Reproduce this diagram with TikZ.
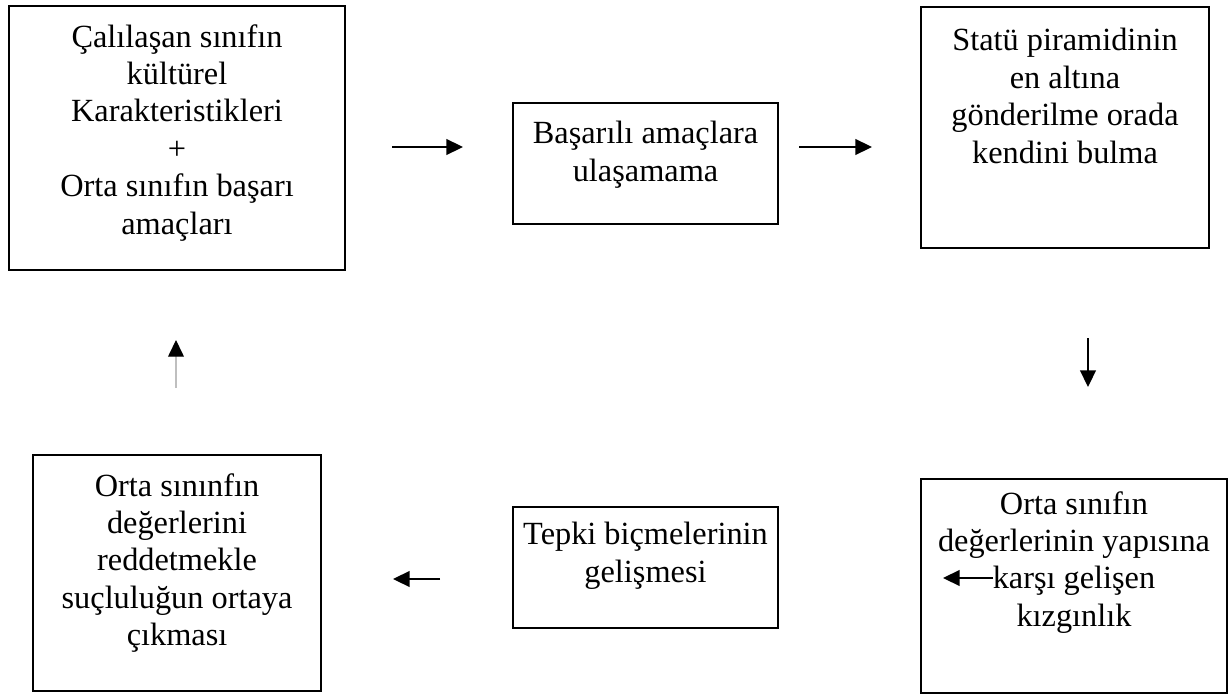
\documentclass[tikz,border=0pt]{standalone}
\usepackage{fontspec}
\setmainfont{Liberation Serif}
\usetikzlibrary{arrows.meta,positioning}

\tikzset{
	kutu/.style={draw, line width=1.2pt, anchor=north west, inner sep=0pt},
	yazi/.style={anchor=north, align=center, inner sep=0pt, font=\fontsize{18.4}{21.3}\selectfont},
	ok/.style={line width=1pt, -{Triangle[length=9.5pt,width=9pt]}}
}

\begin{document}
\begin{tikzpicture}[x=0.02cm,y=-0.02cm]
			\useasboundingbox (0,0) rectangle (1228,696);

			\node[kutu, minimum width=6.72cm, minimum height=5.28cm] (k1) at (8,5) {};
			\node[kutu, minimum width=5.30cm, minimum height=2.42cm] (k2) at (512,102) {};
			\node[kutu, minimum width=5.76cm, minimum height=4.82cm] (k3) at (920,6) {};
			\node[kutu, minimum width=6.12cm, minimum height=4.28cm] (k4) at (920,478) {};
			\node[kutu, minimum width=5.30cm, minimum height=2.42cm] (k5) at (512,506) {};
			\node[kutu, minimum width=5.76cm, minimum height=4.72cm] (k6) at (32,454) {};

			\node[yazi, below=0.38cm of k1.north] (y1) {Çalılaşan sınıfın\\kültürel\\Karakteristikleri\\+\\Orta sınıfın başarı\\amaçları};
			\node[yazi, below=0.38cm of k2.north] (y2) {Başarılı amaçlara\\ulaşamama};
			\node[yazi, below=0.44cm of k3.north] (y3) {Statü piramidinin\\en altına\\gönderilme orada\\kendini bulma};
			\node[yazi, below=0.26cm of k4.north] (y4) {Orta sınıfın\\değerlerinin yapısına\\karşı gelişen\\kızgınlık};
			\node[yazi, below=0.32cm of k5.north] (y5) {Tepki biçmelerinin\\gelişmesi};
			\node[yazi, below=0.38cm of k6.north] (y6) {Orta sınınfın\\değerlerini\\reddetmekle\\suçluluğun ortaya\\çıkması};

			\coordinate (a1) at (392,147);
			\coordinate (b1) at (463,147);
			\coordinate (a2) at (799,147);
			\coordinate (b2) at (872,147);
			\coordinate (a3) at (1088,338);
			\coordinate (b3) at (1088,387);
			\coordinate (a4) at (993,578);
			\coordinate (b4) at (943,578);
			\coordinate (a5) at (440,579);
			\coordinate (b5) at (393,579);
			\coordinate (a6) at (176,388);
			\coordinate (b6) at (176,340);

			\draw[ok] (a1) -- (b1);
			\draw[ok] (a2) -- (b2);
			\draw[ok] (a3) -- (b3);
			\draw[ok] (a4) -- (b4);
			\draw[ok] (a5) -- (b5);
			\draw[ok, draw=black!25, line width=0.7pt, -{Triangle[length=9.5pt,width=9pt,color=black]}] (a6) -- (b6);
\end{tikzpicture}
\end{document}
